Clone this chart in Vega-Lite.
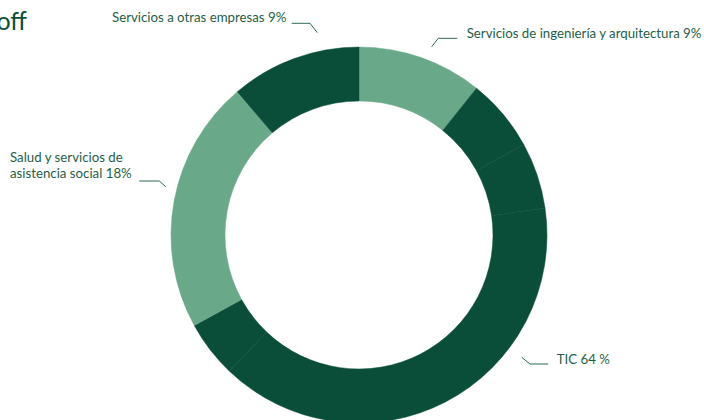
{
  "$schema": "https://vega.github.io/schema/vega-lite/v6.json",
  "width": 690,
  "height": 370,
  "autosize": {"type": "none"},
  "padding": {"left": 14, "top": 50, "right": 0, "bottom": 0},
  "background": "white",
  "config": {"view": {"stroke": null}},
  "layer": [
    {
      "data": {"values": [
        {"seg": 1, "categoria": "Servicios de ingeniería y arquitectura", "valor": 10.75},
        {"seg": 2, "categoria": "TIC", "valor": 6.25},
        {"seg": 3, "categoria": "TIC", "valor": 5.7},
        {"seg": 4, "categoria": "TIC", "valor": 39.4},
        {"seg": 5, "categoria": "TIC", "valor": 4.9},
        {"seg": 6, "categoria": "Salud y servicios de asistencia social", "valor": 21.8},
        {"seg": 7, "categoria": "Servicios a otras empresas", "valor": 11.2}
      ]},
      "mark": {"type": "arc", "innerRadius": 134, "outerRadius": 188, "strokeWidth": 0.5},
      "encoding": {
        "theta": {"field": "valor", "type": "quantitative", "stack": true},
        "order": {"field": "seg", "type": "quantitative", "sort": "ascending"},
        "color": {
          "field": "categoria", "type": "nominal", "legend": null,
          "scale": {
            "domain": ["Servicios de ingeniería y arquitectura", "TIC", "Salud y servicios de asistencia social", "Servicios a otras empresas"],
            "range": ["#69a98a", "#0a4e3a", "#69a98a", "#0a4e3a"]
          }
        },
        "stroke": {
          "field": "categoria", "type": "nominal", "legend": null,
          "scale": {
            "domain": ["Servicios de ingeniería y arquitectura", "TIC", "Salud y servicios de asistencia social", "Servicios a otras empresas"],
            "range": ["#69a98a", "#0a4e3a", "#69a98a", "#0a4e3a"]
          }
        }
      }
    },
    {
      "data": {"values": [
        {"g": 1, "p": 1, "x": -67.3, "y": 211.7},
        {"g": 1, "p": 2, "x": -49, "y": 211.7},
        {"g": 1, "p": 3, "x": -41.7, "y": 202.3},
        {"g": 2, "p": 1, "x": 98.3, "y": 196.7},
        {"g": 2, "p": 2, "x": 79.3, "y": 196.7},
        {"g": 2, "p": 3, "x": 72.7, "y": 188.3},
        {"g": 3, "p": 1, "x": -219.7, "y": 54},
        {"g": 3, "p": 2, "x": -199.7, "y": 54},
        {"g": 3, "p": 3, "x": -193.3, "y": 48.3},
        {"g": 4, "p": 1, "x": 189.3, "y": -129},
        {"g": 4, "p": 2, "x": 171, "y": -129},
        {"g": 4, "p": 3, "x": 162.7, "y": -122.3}
      ]},
      "mark": {"type": "line", "color": "#2a6a52", "strokeWidth": 1},
      "encoding": {
        "x": {"field": "x", "type": "quantitative", "axis": null, "scale": {"domain": [-345, 345], "nice": false, "zero": false}},
        "y": {"field": "y", "type": "quantitative", "axis": null, "scale": {"domain": [-185, 185], "nice": false, "zero": false}},
        "detail": {"field": "g", "type": "nominal"},
        "order": {"field": "p", "type": "quantitative"}
      }
    },
    {
      "data": {"values": [
        {"texto": "Servicios a otras empresas 9%", "x": -247, "y": 217},
        {"texto": "Servicios de ingeniería y arquitectura 9%", "x": 107.7, "y": 201},
        {"texto": "Salud y servicios de", "x": -349, "y": 77},
        {"texto": "asistencia social 18%", "x": -349, "y": 61},
        {"texto": "TIC 64 %", "x": 197.7, "y": -125}
      ]},
      "mark": {"type": "text", "align": "left", "baseline": "middle", "font": "Lato", "fontSize": 13.25, "color": "#1f5e47"},
      "encoding": {
        "x": {"field": "x", "type": "quantitative"},
        "y": {"field": "y", "type": "quantitative"},
        "text": {"field": "texto", "type": "nominal"}
      }
    },
    {
      "data": {"values": [{"texto": "off", "x": -332, "y": 205}]},
      "mark": {"type": "text", "align": "right", "baseline": "alphabetic", "font": "Lato", "fontSize": 25, "color": "#0a4e3a"},
      "encoding": {
        "x": {"field": "x", "type": "quantitative"},
        "y": {"field": "y", "type": "quantitative"},
        "text": {"field": "texto", "type": "nominal"}
      }
    }
  ]
}
